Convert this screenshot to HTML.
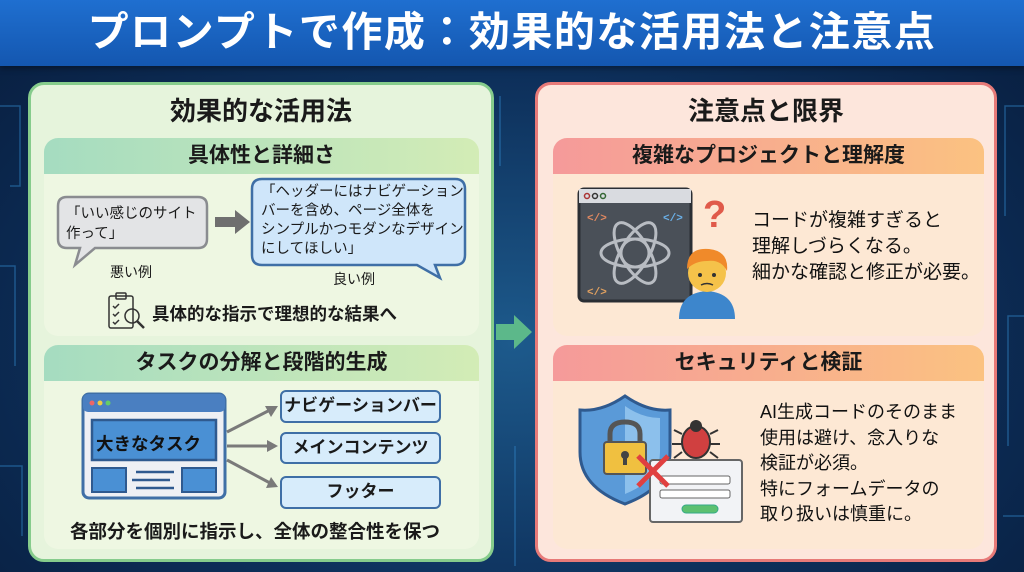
<!DOCTYPE html>
<html><head><meta charset="utf-8">
<style>
*{margin:0;padding:0;box-sizing:border-box}
body{width:1024px;height:572px;overflow:hidden;position:relative;font-family:"Liberation Sans","Noto Sans CJK JP",sans-serif;font-weight:bold;color:#1a1a1a;background:radial-gradient(ellipse at 50% 60%,#1d5a8c 0%,#0d2f5a 55%,#081d3d 100%)}
.abs{position:absolute}
.title{left:0;top:0;width:1024px;height:66px;background:linear-gradient(180deg,#1f6fd0,#1457b0);color:#fff;font-size:41px;text-align:center;line-height:64px;letter-spacing:1.5px;box-shadow:0 2px 6px rgba(0,0,0,.4)}
.panel{border-radius:16px;border:3px solid}
.lp{left:28px;top:82px;width:466px;height:480px;background:#e6f4dc;border-color:#86cc8c}
.rp{left:535px;top:82px;width:462px;height:480px;background:#fde6dc;border-color:#e77a78}
.ptitle{font-size:26px;text-align:center;width:100%;top:6px}
.card{border-radius:14px;overflow:hidden}
.lc{background:#eef7e2}
.rc{background:#fde8d4}
.hd{height:36px;font-size:21px;text-align:center;line-height:36px}
.lh{background:linear-gradient(90deg,#a5dcc0,#d3ecb6)}
.rh{background:linear-gradient(90deg,#f59a9a,#fbc281)}
.t{position:absolute;white-space:nowrap}
.bx{position:absolute;background:#d7ecfb;border:2.5px solid #3f6fa6;border-radius:6px;font-size:17px;text-align:center;line-height:27px}
</style></head><body>
<svg class="abs" style="left:0;top:66px" width="1024" height="506">
<g stroke="#2f86c8" stroke-width="1.5" fill="none" opacity=".5">
<path d="M0 40 H20 V120 H10"/><path d="M0 200 H15 V300"/><path d="M0 400 H22 V470"/><path d="M1024 40 H1005 V150"/><path d="M1024 250 H1008 V380"/><path d="M1024 450 H1003"/>
<path d="M500 30 V100"/><path d="M515 380 V500"/>
</g></svg>
<div class="abs title">プロンプトで作成：効果的な活用法と注意点</div>

<div class="abs panel lp"><div class="abs ptitle">効果的な活用法</div></div>
<div class="abs panel rp"><div class="abs ptitle">注意点と限界</div></div>

<svg class="abs" style="left:494px;top:312px" width="42" height="40"><path d="M2 12 H20 V3 L38 20 L20 37 V28 H2Z" fill="#5cb88a"/></svg>

<div class="abs card lc" style="left:44px;top:138px;width:435px;height:198px"><div class="hd lh">具体性と詳細さ</div></div>
<svg class="abs" style="left:55px;top:175px" width="420" height="120">
<path d="M12 22 H143 Q152 22 152 31 V64 Q152 73 143 73 H40 L20 90 L25 73 H12 Q3 73 3 64 V31 Q3 22 12 22Z" fill="#e3e4e6" stroke="#8a8c90" stroke-width="2.5"/>
<path d="M160 42 H180 V35 L195 47 L180 59 V52 H160Z" fill="#6f6f6f"/>
<path d="M207 4 H400 Q410 4 410 14 V80 Q410 90 400 90 H380 L385 103 L362 90 H207 Q197 90 197 80 V14 Q197 4 207 4Z" fill="#cfe6fa" stroke="#3f6fa6" stroke-width="2.5"/>
</svg>
<div class="t" style="left:66px;top:204px;font-size:14.5px;line-height:20px;font-weight:normal">「いい感じのサイト<br>作って」</div>
<div class="t" style="left:110px;top:262px;font-size:14px;font-weight:normal">悪い例</div>
<div class="t" style="left:261px;top:183px;font-size:14.5px;line-height:19px;font-weight:normal">「ヘッダーにはナビゲーション<br>バーを含め、ページ全体を<br>シンプルかつモダンなデザイン<br>にしてほしい」</div>
<div class="t" style="left:333px;top:269px;font-size:14px;font-weight:normal">良い例</div>
<svg class="abs" style="left:106px;top:290px" width="42" height="42" fill="none" stroke="#333" stroke-width="1.5"><rect x="3" y="6" width="24" height="32" rx="2"/><rect x="10" y="3" width="10" height="6" rx="1"/><path d="M7 16 l2 2 4-4 M7 24 l2 2 4-4 M7 32 l2 2 4-4"/><circle cx="26" cy="26" r="7"/><path d="M31 31 L38 38" stroke-width="2.5"/></svg>
<div class="t" style="left:152px;top:301px;font-size:17.5px">具体的な指示で理想的な結果へ</div>

<div class="abs card lc" style="left:44px;top:345px;width:435px;height:204px"><div class="hd lh">タスクの分解と段階的生成</div></div>
<svg class="abs" style="left:80px;top:390px" width="200" height="112">
<rect x="3" y="4" width="142" height="104" rx="6" fill="#eef0f4" stroke="#3f6fa6" stroke-width="3"/>
<rect x="3" y="4" width="142" height="18" rx="5" fill="#4a7fc1"/>
<circle cx="12" cy="13" r="2.5" fill="#e66"/><circle cx="20" cy="13" r="2.5" fill="#ec4"/><circle cx="28" cy="13" r="2.5" fill="#6c6"/>
<rect x="12" y="30" width="124" height="40" fill="#4a90d4" stroke="#2f5a8f" stroke-width="2.5"/>
<rect x="12" y="78" width="34" height="24" fill="#4a90d4" stroke="#2f5a8f" stroke-width="2"/>
<rect x="102" y="78" width="34" height="24" fill="#4a90d4" stroke="#2f5a8f" stroke-width="2"/>
<path d="M56 82 H94 M52 90 H90 M56 98 H94" stroke="#2f5a8f" stroke-width="2.5"/>
<g stroke="#7a7a7a" stroke-width="3" fill="#7a7a7a"><path d="M147 42 L190 20"/><path d="M147 56 H192"/><path d="M147 70 L190 93"/></g>
<path d="M198 16 L185 16 L191 27Z M198 56 L187 50 V62Z M198 97 L186 98 L191 87Z" fill="#7a7a7a"/>
</svg>
<div class="t" style="left:96px;top:431px;font-size:17.5px;color:#111">大きなタスク</div>
<div class="bx" style="left:280px;top:390px;width:161px;height:33px">ナビゲーションバー</div>
<div class="bx" style="left:280px;top:432px;width:161px;height:32px">メインコンテンツ</div>
<div class="bx" style="left:280px;top:476px;width:161px;height:33px">フッター</div>
<div class="t" style="left:70px;top:518px;font-size:18.5px">各部分を個別に指示し、全体の整合性を保つ</div>

<div class="abs card rc" style="left:553px;top:138px;width:431px;height:198px"><div class="hd rh">複雑なプロジェクトと理解度</div></div>
<svg class="abs" style="left:575px;top:185px" width="170" height="135">
<rect x="4" y="4" width="112" height="112" rx="5" fill="#4a5058" stroke="#2a2e34" stroke-width="3"/>
<rect x="4" y="4" width="112" height="14" fill="#d9dbe0"/>
<circle cx="12" cy="11" r="2.5" fill="none" stroke="#a33" stroke-width="1.5"/><circle cx="20" cy="11" r="2.5" fill="none" stroke="#333" stroke-width="1.5"/><circle cx="28" cy="11" r="2.5" fill="none" stroke="#363" stroke-width="1.5"/>
<text x="12" y="36" font-size="11" fill="#e08860" font-family="Liberation Mono">&lt;/&gt;</text>
<text x="88" y="36" font-size="11" fill="#6ab0e8" font-family="Liberation Mono">&lt;/&gt;</text>
<text x="12" y="110" font-size="11" fill="#e0a060" font-family="Liberation Mono">&lt;/&gt;</text>
<g fill="none" stroke="#b8bcc2" stroke-width="3"><ellipse cx="60" cy="68" rx="34" ry="14"/><ellipse cx="60" cy="68" rx="34" ry="14" transform="rotate(60 60 68)"/><ellipse cx="60" cy="68" rx="34" ry="14" transform="rotate(120 60 68)"/><circle cx="60" cy="68" r="14"/></g>
<text x="128" y="42" font-size="38" fill="#e05a4a" font-family="Liberation Sans" font-weight="bold">?</text>
<path d="M104 134 Q104 108 132 106 Q160 108 160 134Z" fill="#3d86cc"/>
<circle cx="132" cy="88" r="19" fill="#f5c24a"/>
<path d="M112 84 Q112 62 134 64 Q154 66 152 86 Q146 74 132 76 Q120 76 112 84Z" fill="#f08a2a"/>
<circle cx="125" cy="90" r="2" fill="#333"/><circle cx="139" cy="90" r="2" fill="#333"/><path d="M126 100 Q132 97 138 100" stroke="#333" stroke-width="1.5" fill="none"/>
</svg>
<div class="t" style="left:752px;top:208px;font-size:19px;line-height:26px;font-weight:normal;color:#111">コードが複雑すぎると<br>理解しづらくなる。<br>細かな確認と修正が必要。</div>

<div class="abs card rc" style="left:553px;top:345px;width:431px;height:204px"><div class="hd rh">セキュリティと検証</div></div>
<svg class="abs" style="left:578px;top:392px" width="170" height="135">
<path d="M47 4 Q70 20 92 18 V60 Q92 95 47 112 Q2 95 2 60 V18 Q24 20 47 4Z" fill="#5a9ad8" stroke="#2f5a8f" stroke-width="3"/>
<path d="M47 14 Q64 26 82 26 V60 Q82 88 47 102Z" fill="#8cc0ec"/>
<path d="M32 52 V42 Q32 30 47 30 Q62 30 62 42 V52" fill="none" stroke="#555" stroke-width="5"/>
<rect x="26" y="50" width="42" height="32" rx="3" fill="#f0c040" stroke="#555" stroke-width="2"/>
<circle cx="47" cy="63" r="4" fill="#444"/><rect x="45" y="64" width="4" height="9" fill="#444"/>
<rect x="72" y="68" width="92" height="62" rx="3" fill="#f2f3f6" stroke="#666" stroke-width="2"/>
<rect x="82" y="84" width="70" height="8" rx="2" fill="#fff" stroke="#666"/><rect x="82" y="98" width="70" height="8" rx="2" fill="#fff" stroke="#666"/>
<rect x="104" y="113" width="36" height="8" rx="4" fill="#5cc070" stroke="#3a8"/>
<path d="M60 64 L90 94 M90 64 L60 94" stroke="#e04040" stroke-width="5"/>
<ellipse cx="118" cy="50" rx="14" ry="16" fill="#d04040" stroke="#333" stroke-width="2"/>
<circle cx="118" cy="34" r="6" fill="#333"/>
<path d="M104 42 L96 38 M104 52 L94 52 M104 60 L96 66 M132 42 L140 38 M132 52 L142 52 M132 60 L140 66" stroke="#333" stroke-width="2"/>
</svg>
<div class="t" style="left:760px;top:400px;font-size:18px;line-height:25.5px;font-weight:normal;color:#111">AI生成コードのそのまま<br>使用は避け、念入りな<br>検証が必須。<br>特にフォームデータの<br>取り扱いは慎重に。</div>
</body></html>
